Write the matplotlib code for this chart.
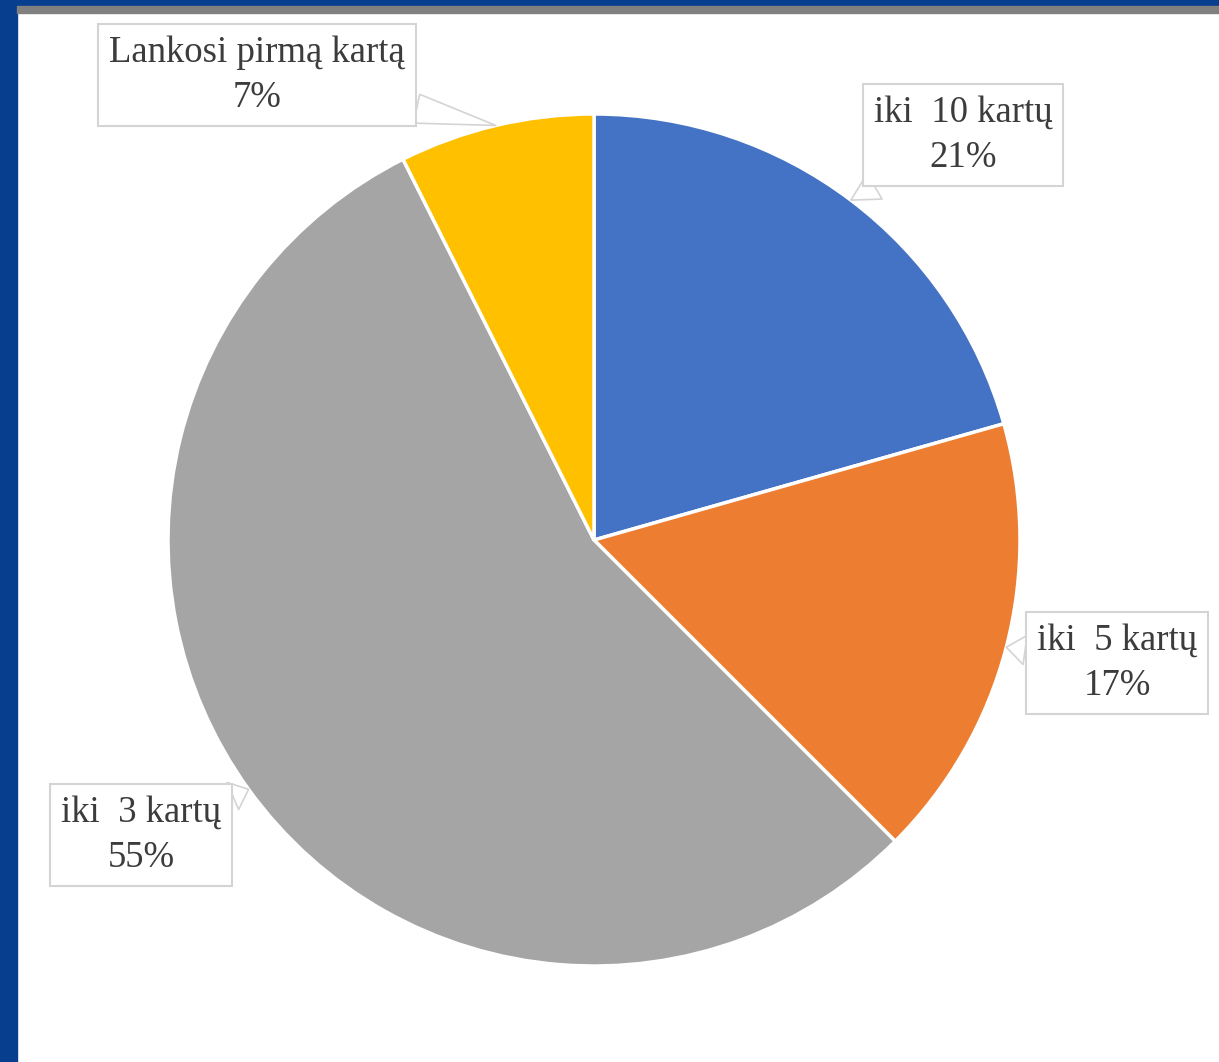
import numpy as np
import matplotlib.pyplot as plt
from matplotlib.patches import Rectangle

# data
categories = ["iki  10 kartų", "iki  5 kartų", "iki  3 kartų", "Lankosi pirmą kartą"]
shares = [20.6, 16.9, 55.1, 7.4]
colors = ["#4472C4", "#ED7D31", "#A5A5A5", "#FFC000"]

# label box centres (pixels, y from bottom)
label_pos = [(963, 927), (1117, 399), (141, 227), (257, 987)]

W, H = 1219, 1062
center = (594, 522)
radius = 426

plt.rcParams['font.family'] = ['Liberation Serif', 'DejaVu Serif']

fig = plt.figure(figsize=(W / 100, H / 100), dpi=100)
ax = fig.add_axes([0, 0, 1, 1])
ax.set_axis_off()

wedges, _ = ax.pie(shares, colors=colors, startangle=90, counterclock=False,
                   center=center, radius=radius,
                   wedgeprops=dict(edgecolor="white", linewidth=2.5))
ax.set_xlim(0, W)
ax.set_ylim(0, H)
ax.set_aspect("equal")

for w, cat, val, pos in zip(wedges, categories, shares, label_pos):
    mid = np.deg2rad((w.theta1 + w.theta2) / 2)
    target = (center[0] + radius * np.cos(mid), center[1] + radius * np.sin(mid))
    ax.annotate(f"{cat}\n{val:.0f}%", xy=target, xytext=pos,
                ha="center", va="center", fontsize=26.5, color="#3c3c3c",
                linespacing=1.38,
                bbox=dict(boxstyle="square,pad=0.3", fc="white", ec="#d4d4d4", lw=1.5),
                arrowprops=dict(arrowstyle="wedge,tail_width=0.8", fc="white",
                                ec="#d4d4d4", lw=1.2, shrinkA=0, shrinkB=0))

# frame
fig.patches.append(Rectangle((0, 0), 17 / W, 1, transform=fig.transFigure,
                             color="#073e8e", zorder=10))
fig.patches.append(Rectangle((0, 1 - 6 / H), 1, 6 / H, transform=fig.transFigure,
                             color="#073e8e", zorder=10))
fig.patches.append(Rectangle((17 / W, 1 - 13 / H), 1, 7 / H, transform=fig.transFigure,
                             color="#808080", zorder=10))

fig.savefig("out.png", dpi=100)
